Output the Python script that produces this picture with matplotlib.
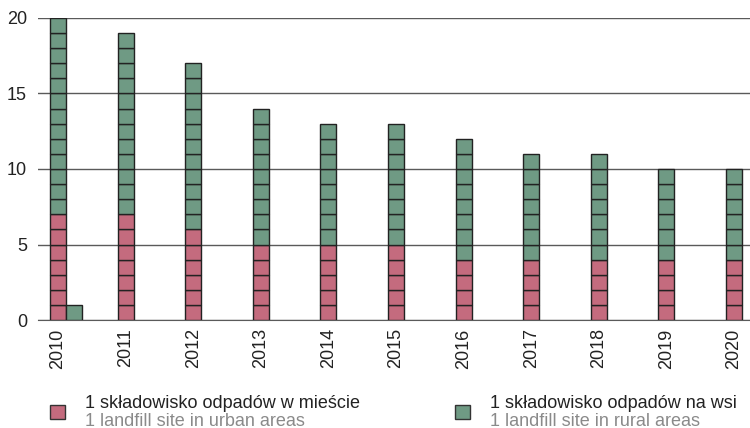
import numpy as np
import matplotlib.pyplot as plt
from matplotlib.patches import Rectangle

plt.rcParams['font.family'] = ['Liberation Sans', 'DejaVu Sans']

years = [2010, 2011, 2012, 2013, 2014, 2015, 2016, 2017, 2018, 2019, 2020]
urban = [7, 7, 6, 5, 5, 5, 4, 4, 4, 4, 4]
rural = [13, 12, 11, 9, 8, 8, 8, 7, 7, 6, 6]
# one rural square in 2010 that did not fit on the scale, drawn beside the bar
overflow = [1, 0, 0, 0, 0, 0, 0, 0, 0, 0, 0]

urban_color = '#c46b7e'
rural_color = '#6f9a84'
edge = '#222222'
width = 0.235

fig = plt.figure(figsize=(7.5, 4.28), dpi=100)
ax = fig.add_axes([0.0507, 0.2523, 0.9493, 0.7057])

x = np.arange(len(years))
for i in range(len(years)):
    for k in range(urban[i]):
        ax.bar(x[i], 1, width, bottom=k, color=urban_color, edgecolor=edge, linewidth=1, zorder=3)
    for k in range(rural[i]):
        ax.bar(x[i], 1, width, bottom=urban[i] + k, color=rural_color, edgecolor=edge, linewidth=1, zorder=3)
    for k in range(overflow[i]):
        ax.bar(x[i] + width, 1, width, bottom=k, color=rural_color, edgecolor=edge, linewidth=1, zorder=3)

ax.set_ylim(0, 20)
ax.set_xlim(-0.296, len(years) - 1 + 0.237)
ax.set_yticks([0, 5, 10, 15, 20])
ax.set_xticks(x)
ax.set_xticklabels([str(y) for y in years], rotation=90, fontsize=13)
ax.tick_params(axis='y', labelsize=13, length=0, pad=8, labelcolor='#222222')
ax.tick_params(axis='x', length=0, pad=6, labelcolor='#222222')
ax.grid(axis='y', color='#5a5a5a', linewidth=1, zorder=0)
for s in ['left', 'right', 'top']:
    ax.spines[s].set_visible(False)
ax.spines['bottom'].set_color('#5a5a5a')

# legend drawn by hand: two lines per entry, Polish on top, English in grey
def legend_entry(x0, color, pl, en):
    fig.patches.append(Rectangle((x0 / 750, 1 - 419 / 428), 15 / 750, 14 / 428,
                                 transform=fig.transFigure, facecolor=color,
                                 edgecolor='#333333', linewidth=1))
    fig.text((x0 + 35) / 750, 1 - 404 / 428, pl, fontsize=13, color='#222222', va='center')
    fig.text((x0 + 35) / 750, 1 - 421 / 428, en, fontsize=13, color='#8a8a8a', va='center')

legend_entry(50, urban_color, '1 składowisko odpadów w mieście', '1 landfill site in urban areas')
legend_entry(455, rural_color, '1 składowisko odpadów na wsi', '1 landfill site in rural areas')

fig.savefig('out.png', dpi=100)
